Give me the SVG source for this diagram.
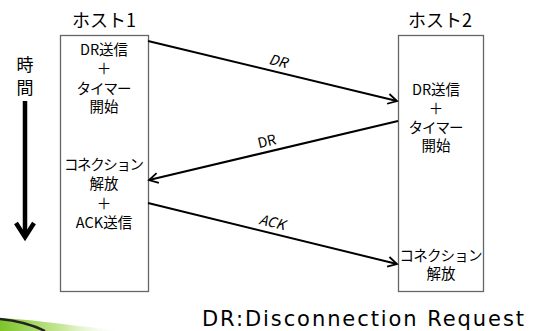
<svg xmlns="http://www.w3.org/2000/svg" width="540" height="331" viewBox="0 0 540 331">
<defs>
<marker id="arr" markerWidth="12" markerHeight="12" refX="10" refY="6" orient="auto" markerUnits="userSpaceOnUse">
<path d="M1,1 L10,6 L1,11" fill="none" stroke="#000" stroke-width="1.8"/>
</marker>
<linearGradient id="grn" x1="0" y1="0" x2="1" y2="0">
<stop offset="0" stop-color="#7dc42a"/>
<stop offset="0.5" stop-color="#c8e89a"/>
<stop offset="1" stop-color="#ffffff" stop-opacity="0"/>
</linearGradient>
</defs>
<style>
text{font-family:"Noto Sans CJK JP","Noto Sans",sans-serif;fill:#000;text-anchor:middle}
.box{fill:#fff;stroke:#666;stroke-width:1.3}
.t{font-size:14.5px}
.h{font-size:18px}
.lbl{font-size:14px}
.conn{stroke:#000;stroke-width:2;fill:none}
</style>
<rect width="540" height="331" fill="#fff"/>
<path d="M0,318 C40,320 80,327 125,331 L0,331 Z" fill="url(#grn)"/>
<path d="M0,319 C20,321 35,326 45,331" fill="none" stroke="#222" stroke-width="2.5"/>
<g id="time">
<text class="h" x="25" y="71" style="font-size:17px">時</text>
<text class="h" x="25" y="94" style="font-size:17px">間</text>
<line x1="25" y1="101" x2="25" y2="236" stroke="#000" stroke-width="4.5"/>
<path d="M16,223 L25,237 L34,223" fill="none" stroke="#000" stroke-width="4.5"/>
</g>
<g id="host1">
<text class="h" x="104" y="27">ホスト1</text>
<rect class="box" x="60.5" y="35.5" width="88" height="256"/>
<text class="t" x="104" y="55">DR送信</text>
<text class="t" x="104" y="74">＋</text>
<text class="t" x="104" y="94" textLength="55">タイマー</text>
<text class="t" x="104" y="112">開始</text>
<text class="t" x="104" y="170" textLength="80">コネクション</text>
<text class="t" x="104" y="189">解放</text>
<text class="t" x="104" y="209">＋</text>
<text class="t" x="104" y="228">ACK送信</text>
</g>
<g id="host2">
<text class="h" x="440" y="27">ホスト2</text>
<rect class="box" x="398.5" y="35.5" width="85" height="256"/>
<text class="t" x="436" y="95">DR送信</text>
<text class="t" x="436" y="114">＋</text>
<text class="t" x="436" y="133" textLength="55">タイマー</text>
<text class="t" x="436" y="151">開始</text>
<text class="t" x="441" y="261" textLength="83">コネクション</text>
<text class="t" x="441" y="279">解放</text>
</g>
<g id="connectors">
<line class="conn" x1="148" y1="41" x2="397" y2="101" marker-end="url(#arr)"/>
<line class="conn" x1="398" y1="121" x2="149" y2="180" marker-end="url(#arr)"/>
<line class="conn" x1="148" y1="203" x2="397" y2="264" marker-end="url(#arr)"/>
<text class="lbl" x="277" y="66" font-style="italic" transform="rotate(13.5 277 66)">DR</text>
<text class="lbl" x="268" y="146" transform="rotate(-13.3 268 146)">DR</text>
<text class="lbl" x="271" y="227" font-style="italic" transform="rotate(13.7 271 227)">ACK</text>
</g>
<text x="363" y="326" style="font-size:21px;font-family:'DejaVu Sans',sans-serif" textLength="322">DR:Disconnection Request</text>
</svg>
